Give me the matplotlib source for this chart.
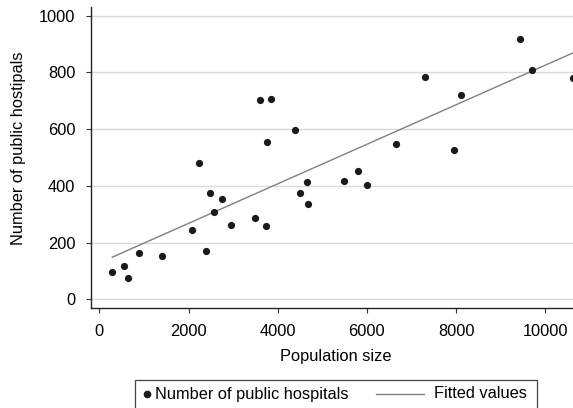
import numpy as np
import matplotlib
matplotlib.use("Agg")
import matplotlib.pyplot as plt
from matplotlib.lines import Line2D
from matplotlib.patches import Rectangle

plt.rcParams['font.family'] = ['Liberation Sans', 'DejaVu Sans']

population = [292, 562, 645, 885, 1416, 2067, 2233, 2382, 2488, 2578, 2750, 2944,
              3492, 3611, 3843, 3753, 3746, 4398, 4667, 4510, 4690, 5483, 5791,
              6008, 6652, 7303, 7942, 8099, 9431, 9708, 10616]
hospitals = [97, 118, 75, 164, 154, 245, 482, 170, 374, 308, 354, 261,
             286, 702, 707, 556, 260, 597, 413, 374, 335, 416, 453,
             404, 548, 783, 525, 722, 917, 810, 779]
yticks = [0, 200, 400, 600, 800, 1000]
xticks = [0, 2000, 4000, 6000, 8000, 10000]
legend_labels = ['Number of public hospitals', 'Fitted values']

W, H = 573, 408
FS = 11.8

x = np.array(population, dtype=float)
y = np.array(hospitals, dtype=float)
slope, intercept = np.polyfit(x, y, 1)
xf = np.array([x.min(), x.max()])
yf = intercept + slope * xf

fig = plt.figure(figsize=(W / 100, H / 100), dpi=100)
ax = fig.add_axes([90.7 / W, 1 - 308.3 / H, (W - 90.7) / W, (308.3 - 7) / H])

for t in yticks:
    ax.axhline(t, color='#dadada', lw=1.0, zorder=0)

ax.plot(xf, yf, color='#808080', lw=1.0, zorder=2)
ax.scatter(x, y, s=27, color='#1a1a1a', zorder=3, clip_on=False, linewidths=0)

ax.set_xlim(-193, 10620)
ax.set_ylim(-32, 1031)
ax.set_xticks(xticks)
ax.set_yticks(yticks)
ax.tick_params(axis='both', labelsize=FS, length=3.5, width=0.8, color='#333333')
ax.tick_params(axis='y', pad=7.5)
ax.tick_params(axis='x', pad=8)
for s in ['top', 'right']:
    ax.spines[s].set_visible(False)
for s in ['left', 'bottom']:
    ax.spines[s].set_color('#222222')
    ax.spines[s].set_linewidth(1.0)

ax.set_xlabel('Population size', fontsize=FS)
ax.set_ylabel('Number of public hostipals', fontsize=FS)
ax.xaxis.set_label_coords((335.5 - 90.7) / (W - 90.7), (308.3 - 349) / (308.3 - 7))
ax.yaxis.set_label_coords((26 - 90.7) / (W - 90.7), (308.3 - 148) / (308.3 - 7))

# legend drawn in figure pixel coordinates
def fx(px):
    return px / W

def fy(py):
    return 1 - py / H

fig.patches.append(Rectangle((fx(135), fy(412)), fx(537) - fx(135), fy(380) - fy(412),
                             transform=fig.transFigure, fill=False,
                             edgecolor='#444444', lw=0.9))
fig.lines.append(Line2D([fx(146.5)], [fy(393.5)], transform=fig.transFigure,
                        marker='o', markersize=4.5, color='#1a1a1a', ls='none'))
fig.text(fx(155), fy(394), legend_labels[0], fontsize=FS, va='center', ha='left')
fig.lines.append(Line2D([fx(376), fx(424)], [fy(393.5), fy(393.5)],
                        transform=fig.transFigure, color='#808080', lw=1.0))
fig.text(fx(434), fy(394), legend_labels[1], fontsize=FS, va='center', ha='left')

fig.savefig('out.png', dpi=100)
